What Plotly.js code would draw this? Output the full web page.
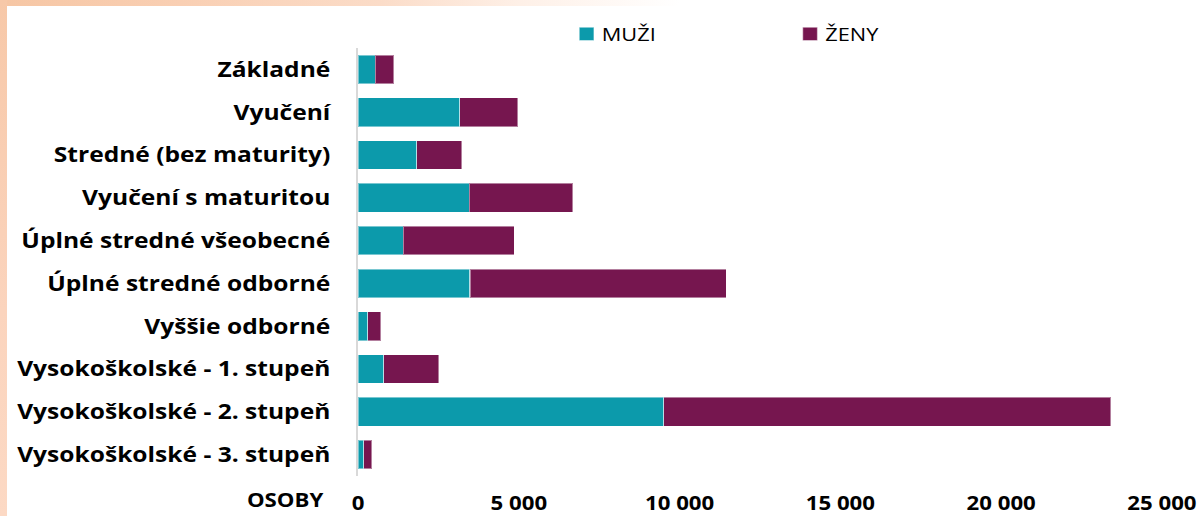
<!DOCTYPE html>
<html>
<head>
<meta charset="utf-8">
<script src="https://cdn.plot.ly/plotly-3.0.1.min.js"></script>
<style>
html,body{margin:0;padding:0;width:1197px;height:516px;overflow:hidden;background:#fff;}
#bg{position:absolute;left:0;top:0;width:1197px;height:516px;
  background:linear-gradient(to right,#f6c6a4 0px,#f9cfb3 180px,#fbdcc8 380px,#fef0e7 520px,#ffffff 680px);}
#strip{position:absolute;left:0;top:0;width:7px;height:516px;
  background:linear-gradient(to bottom,#f7c8a8 0%,#fbd4bd 60%,#fcd9c4 100%);}
#panel{position:absolute;left:7px;top:6px;width:1190px;height:510px;background:#fff;}
#chart{position:absolute;left:0;top:0;width:1023px;height:516px;transform:scaleX(1.1701);transform-origin:0 0;}
#chart .legend .legendpoints{transform:translate(6px,0px) scale(1.05,1.1);}
</style>
</head>
<body>
<div id="bg"></div>
<div id="strip"></div>
<div id="panel"></div>
<div id="chart"></div>
<script>
// Categories (top to bottom)
const categories = [
  'Základné',
  'Vyučení',
  'Stredné (bez maturity)',
  'Vyučení s maturitou',
  'Úplné stredné všeobecné',
  'Úplné stredné odborné',
  'Vyššie odborné',
  'Vysokoškolské - 1. stupeň',
  'Vysokoškolské - 2. stupeň',
  'Vysokoškolské - 3. stupeň'
];
// Series values (persons)
const muzi = [530, 3160, 1820, 3460, 1410, 3480, 300, 800, 9500, 180];
const zeny = [580, 1810, 1400, 3210, 3450, 7970, 400, 1710, 13910, 255];
// Axis ticks
const tickVals = [0, 5000, 10000, 15000, 20000, 25000];
const tickText = ['0', '5 000', '10 000', '15 000', '20 000', '25 000'];
const seriesNames = ['MUŽI', 'ŽENY'];

const FONT = '"Open Sans", "Noto Sans", sans-serif';

const traces = [
  {
    type: 'bar', orientation: 'h', name: seriesNames[0],
    y: categories, x: muzi,
    marker: {color: '#0c9aab', line: {color: 'rgba(255,255,255,0.45)', width: 1}}
  },
  {
    type: 'bar', orientation: 'h', name: seriesNames[1],
    y: categories, x: zeny,
    marker: {color: '#76164f', line: {color: 'rgba(255,255,255,0.45)', width: 1}}
  }
];

const layout = {
  width: 1023, height: 516,
  margin: {l: 306, r: 30, t: 48, b: 40, pad: 0, autoexpand: false},
  paper_bgcolor: 'rgba(0,0,0,0)',
  plot_bgcolor: 'rgba(0,0,0,0)',
  barmode: 'stack',
  bargap: 0.33,
  font: {family: FONT, color: '#000'},
  showlegend: true,
  legend: {
    orientation: 'h', xref: 'paper', x: 0.245, xanchor: 'left',
    yref: 'container', y: 0.9335, yanchor: 'middle',
    font: {family: FONT, size: 18.6, color: '#000'},
    entrywidth: 146, traceorder: 'normal', bgcolor: 'rgba(0,0,0,0)'
  },
  xaxis: {
    range: [0, 25000], tickvals: tickVals, ticktext: tickText,
    showgrid: false, zeroline: false, showline: false,
    ticks: 'outside', ticklen: 10, tickcolor: 'rgba(0,0,0,0)',
    tickfont: {family: FONT, size: 19, weight: 'bold', color: '#000'},
    automargin: false, fixedrange: true
  },
  yaxis: {
    type: 'category', autorange: 'reversed',
    showgrid: false, zeroline: false,
    showline: true, linecolor: '#d9d9d9', linewidth: 2,
    ticks: 'outside', ticklen: 17.5, tickcolor: 'rgba(0,0,0,0)',
    tickfont: {family: FONT, size: 21, weight: 'bold', color: '#000'},
    automargin: false, fixedrange: true
  },
  annotations: [{
    text: 'OSOBY', xref: 'paper', yref: 'paper', x: 0, y: 0,
    xanchor: 'center', yanchor: 'middle', xshift: -63, yshift: -24,
    showarrow: false, font: {family: FONT, size: 19, weight: 'bold', color: '#000'}
  }]
};

Plotly.newPlot('chart', traces, layout, {displayModeBar: false, staticPlot: true});
</script>
</body>
</html>
